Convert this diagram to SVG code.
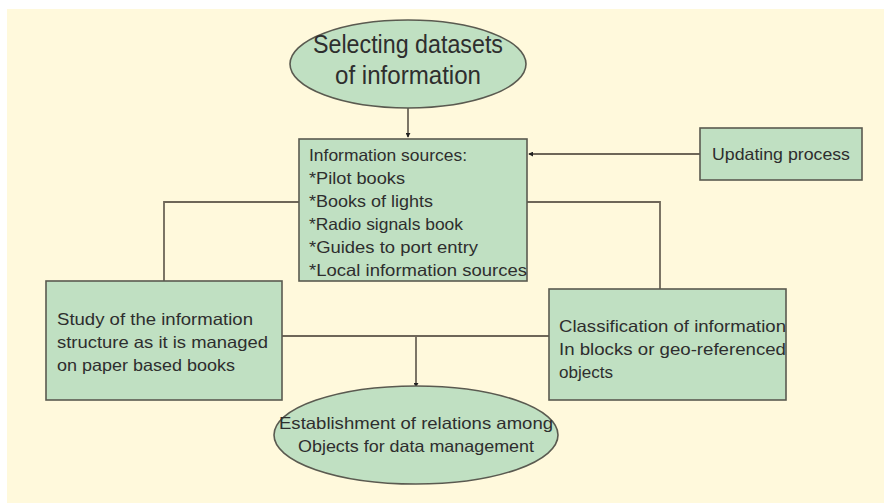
<svg xmlns="http://www.w3.org/2000/svg" width="884" height="503" viewBox="0 0 884 503">
<style>
.n{fill:#c0e0c2;stroke:#5a5a50;stroke-width:1.6}
.c{fill:none;stroke:#6e6658;stroke-width:1.8}
text{font-family:"Liberation Sans Narrow","Liberation Sans",Arial,sans-serif;fill:#2e2e2e}
.t{font-size:16.5px}
.b{font-size:25px}
</style>
<defs>
<marker id="ah" viewBox="0 0 6 6" refX="5" refY="3" markerWidth="5" markerHeight="5" orient="auto" markerUnits="userSpaceOnUse">
<path d="M0,0 L6,3 L0,6 z" fill="#222"/>
</marker>
</defs>
<rect x="0" y="0" width="884" height="503" fill="#ffffff"/>
<rect x="7" y="9" width="877" height="494" fill="#fff9dc"/>
<g id="connectors">
<line class="c" x1="408" y1="108" x2="408" y2="137" marker-end="url(#ah)"/>
<line class="c" x1="700" y1="154" x2="529" y2="154" marker-end="url(#ah)"/>
<polyline class="c" points="299,202 164,202 164,281"/>
<polyline class="c" points="527,202 660,202 660,289"/>
<line class="c" x1="282" y1="336" x2="549" y2="336"/>
<line class="c" x1="416" y1="336" x2="416" y2="387" marker-end="url(#ah)"/>
</g>
<g id="n1">
<ellipse class="n" cx="408" cy="64" rx="118" ry="44"/>
<text class="b" x="408" y="53" text-anchor="middle" textLength="190" lengthAdjust="spacingAndGlyphs">Selecting datasets</text>
<text class="b" x="408" y="84" text-anchor="middle" textLength="146" lengthAdjust="spacingAndGlyphs">of information</text>
</g>
<g id="n2">
<rect class="n" x="299" y="139" width="228" height="142"/>
<text class="t" x="309" y="161" textLength="158" lengthAdjust="spacingAndGlyphs">Information sources:</text>
<text class="t" x="309" y="184" textLength="96" lengthAdjust="spacingAndGlyphs">*Pilot books</text>
<text class="t" x="309" y="207" textLength="124" lengthAdjust="spacingAndGlyphs">*Books of lights</text>
<text class="t" x="309" y="230" textLength="154" lengthAdjust="spacingAndGlyphs">*Radio signals book</text>
<text class="t" x="309" y="253" textLength="169" lengthAdjust="spacingAndGlyphs">*Guides to port entry</text>
<text class="t" x="309" y="276" textLength="218" lengthAdjust="spacingAndGlyphs">*Local information sources</text>
</g>
<g id="n3">
<rect class="n" x="700" y="128" width="162" height="52"/>
<text class="t" x="781" y="160" text-anchor="middle" textLength="138" lengthAdjust="spacingAndGlyphs">Updating process</text>
</g>
<g id="n4">
<rect class="n" x="46" y="281" width="236" height="119"/>
<text class="t" x="57" y="325" textLength="196" lengthAdjust="spacingAndGlyphs">Study of the information</text>
<text class="t" x="57" y="348" textLength="211" lengthAdjust="spacingAndGlyphs">structure as it is managed</text>
<text class="t" x="57" y="371" textLength="178" lengthAdjust="spacingAndGlyphs">on paper based books</text>
</g>
<g id="n5">
<rect class="n" x="549" y="289" width="237" height="111"/>
<text class="t" x="559" y="332" textLength="227" lengthAdjust="spacingAndGlyphs">Classification of information</text>
<text class="t" x="559" y="355" textLength="227" lengthAdjust="spacingAndGlyphs">In blocks or geo-referenced</text>
<text class="t" x="559" y="378" textLength="54" lengthAdjust="spacingAndGlyphs">objects</text>
</g>
<g id="n6">
<ellipse class="n" cx="416" cy="435" rx="142" ry="49"/>
<text class="t" x="416" y="429" text-anchor="middle" textLength="274" lengthAdjust="spacingAndGlyphs">Establishment of relations among</text>
<text class="t" x="416" y="452" text-anchor="middle" textLength="236" lengthAdjust="spacingAndGlyphs">Objects for data management</text>
</g>
</svg>
